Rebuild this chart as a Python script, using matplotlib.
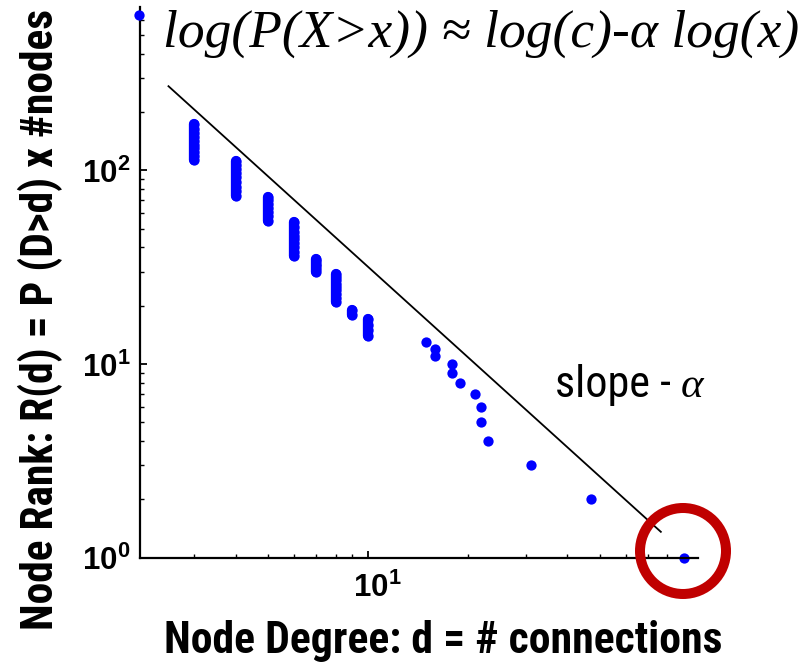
import matplotlib
matplotlib.use("Agg")
import matplotlib.pyplot as plt
from matplotlib.patches import Circle
from matplotlib.ticker import FixedLocator, FixedFormatter, NullFormatter
from matplotlib.transforms import ScaledTranslation

# rank plot data: columns of nodes sharing a degree, then the sparse tail
col_degrees = [3, 4, 5, 6, 7, 8, 9, 10]
col_ranks = [
    [113, 118, 124, 130, 136, 142, 149, 156, 164, 173],
    [74, 78, 82, 87, 92, 97, 102, 107, 112],
    [55, 58, 61, 64, 67, 70, 73],
    [36, 38, 40, 42, 44, 46, 48, 51, 54],
    [30, 31, 32, 33, 34, 35],
    [21, 22, 23, 24, 25, 26, 27, 28, 29],
    [18, 19],
    [14, 15, 16, 17],
]
tail_degrees = [15, 16, 16, 18, 18, 19, 21, 22, 22, 23, 31, 47, 90]
tail_ranks = [13, 12, 11, 10, 9, 8, 7, 6, 5, 4, 3, 2, 1]
head_degree = [2.05]
head_rank = [636]

# power-law guide line
fit_degrees = [2.51, 76.5]
fit_ranks = [272, 1.36]

y_ticks = [1, 10, 100]
y_labels = [r"$\mathbf{10^{0}}$", r"$\mathbf{10^{1}}$", r"$\mathbf{10^{2}}$"]
x_ticks = [10]
x_labels = [r"$\mathbf{10^{1}}$"]

plt.rcParams["mathtext.fontset"] = "custom"
plt.rcParams["mathtext.bf"] = "Liberation Sans:bold"
plt.rcParams["mathtext.rm"] = "Liberation Sans:bold"
narrow = ["Roboto Condensed", "Liberation Sans Narrow", "DejaVu Sans"]

W, H = 807, 663
fig = plt.figure(figsize=(W / 100, H / 100), dpi=100)
ax = fig.add_axes([140 / W, (H - 557.7) / H, 558 / W, 551 / H])
ax.set_xscale("log")
ax.set_yscale("log")
ax.set_xlim(2.06, 99)
ax.set_ylim(1, 700)

blue = "#0000ff"
ms = 7.4
for d, ranks in zip(col_degrees, col_ranks):
    # consecutive ranks merge into one solid bar
    ax.plot([d, d], [min(ranks), max(ranks)], color=blue, lw=ms, solid_capstyle="round")
    ax.plot([d] * len(ranks), ranks, "o", color=blue, ms=ms, mew=0)
ax.plot(tail_degrees, tail_ranks, "o", color=blue, ms=ms, mew=0, clip_on=False)
ax.plot(head_degree, head_rank, "o", color=blue, ms=ms, mew=0, clip_on=False, zorder=5)
ax.plot(fit_degrees, fit_ranks, color="black", lw=1.3)

for side in ["top", "right"]:
    ax.spines[side].set_visible(False)
for side in ["left", "bottom"]:
    ax.spines[side].set_linewidth(1.6)

ax.xaxis.set_major_locator(FixedLocator(x_ticks))
ax.xaxis.set_major_formatter(FixedFormatter(x_labels))
ax.xaxis.set_minor_locator(FixedLocator([3, 4, 5, 6, 7, 8, 9, 20, 30, 40, 50, 60, 70, 80, 90]))
ax.xaxis.set_minor_formatter(NullFormatter())
ax.yaxis.set_major_locator(FixedLocator(y_ticks))
ax.yaxis.set_major_formatter(FixedFormatter(y_labels))
ax.yaxis.set_minor_locator(FixedLocator([2, 3, 4, 5, 6, 7, 8, 9, 20, 30, 40, 50, 60, 70, 80, 90,
                                         200, 300, 400, 500, 600]))
ax.yaxis.set_minor_formatter(NullFormatter())
ax.tick_params(which="major", direction="in", length=5, width=1.3, labelsize=22.5, pad=7)
ax.tick_params(which="minor", direction="in", length=3, width=1)
ax.tick_params(axis="x", which="major", pad=10)
shift = ScaledTranslation(0.1, 0, fig.dpi_scale_trans)
for tick in ax.xaxis.get_major_ticks():
    tick.label1.set_transform(tick.label1.get_transform() + shift)

xlab = fig.text(443.5 / W, (H - 653) / H, "Node Degree: d = # connections", ha="center",
                va="baseline", fontsize=29, fontweight="bold", family=narrow,
                stretch="condensed")
ylab = fig.text(53 / W, (H - 319) / H, "Node Rank: R(d) = P (D>d) x #nodes", ha="center",
                va="baseline", rotation=90, rotation_mode="anchor", fontsize=29,
                fontweight="bold", family=narrow, stretch="condensed")
formula = fig.text(163 / W, (H - 47) / H, "log(P(X>x)) \u2248 log(c)-\u03b1 log(x)",
                   ha="left", va="baseline", fontsize=35, family="Liberation Serif",
                   style="italic")
slope = fig.text(555 / W, (H - 397) / H, "slope -", ha="left", va="baseline", fontsize=28,
                 family=narrow, stretch="condensed")
fig.text(681 / W, (H - 397) / H, "\u03b1", ha="left", va="baseline", fontsize=31,
         family="Liberation Serif", style="italic")

# size the free texts to the widths they occupy on the page
fig.canvas.draw()
renderer = fig.canvas.get_renderer()
for txt, length, vertical in [(xlab, 557, False), (ylab, 622, True),
                              (formula, 637, False), (slope, 116, False)]:
    bb = txt.get_window_extent(renderer)
    span = bb.height if vertical else bb.width
    txt.set_fontsize(txt.get_fontsize() * length / span)

fig.patches.append(Circle((6.83, (H - 551) / 100), 0.43, transform=fig.dpi_scale_trans,
                          fill=False, edgecolor="#c00000", lw=7.2))

fig.savefig("out.png", dpi=100)
